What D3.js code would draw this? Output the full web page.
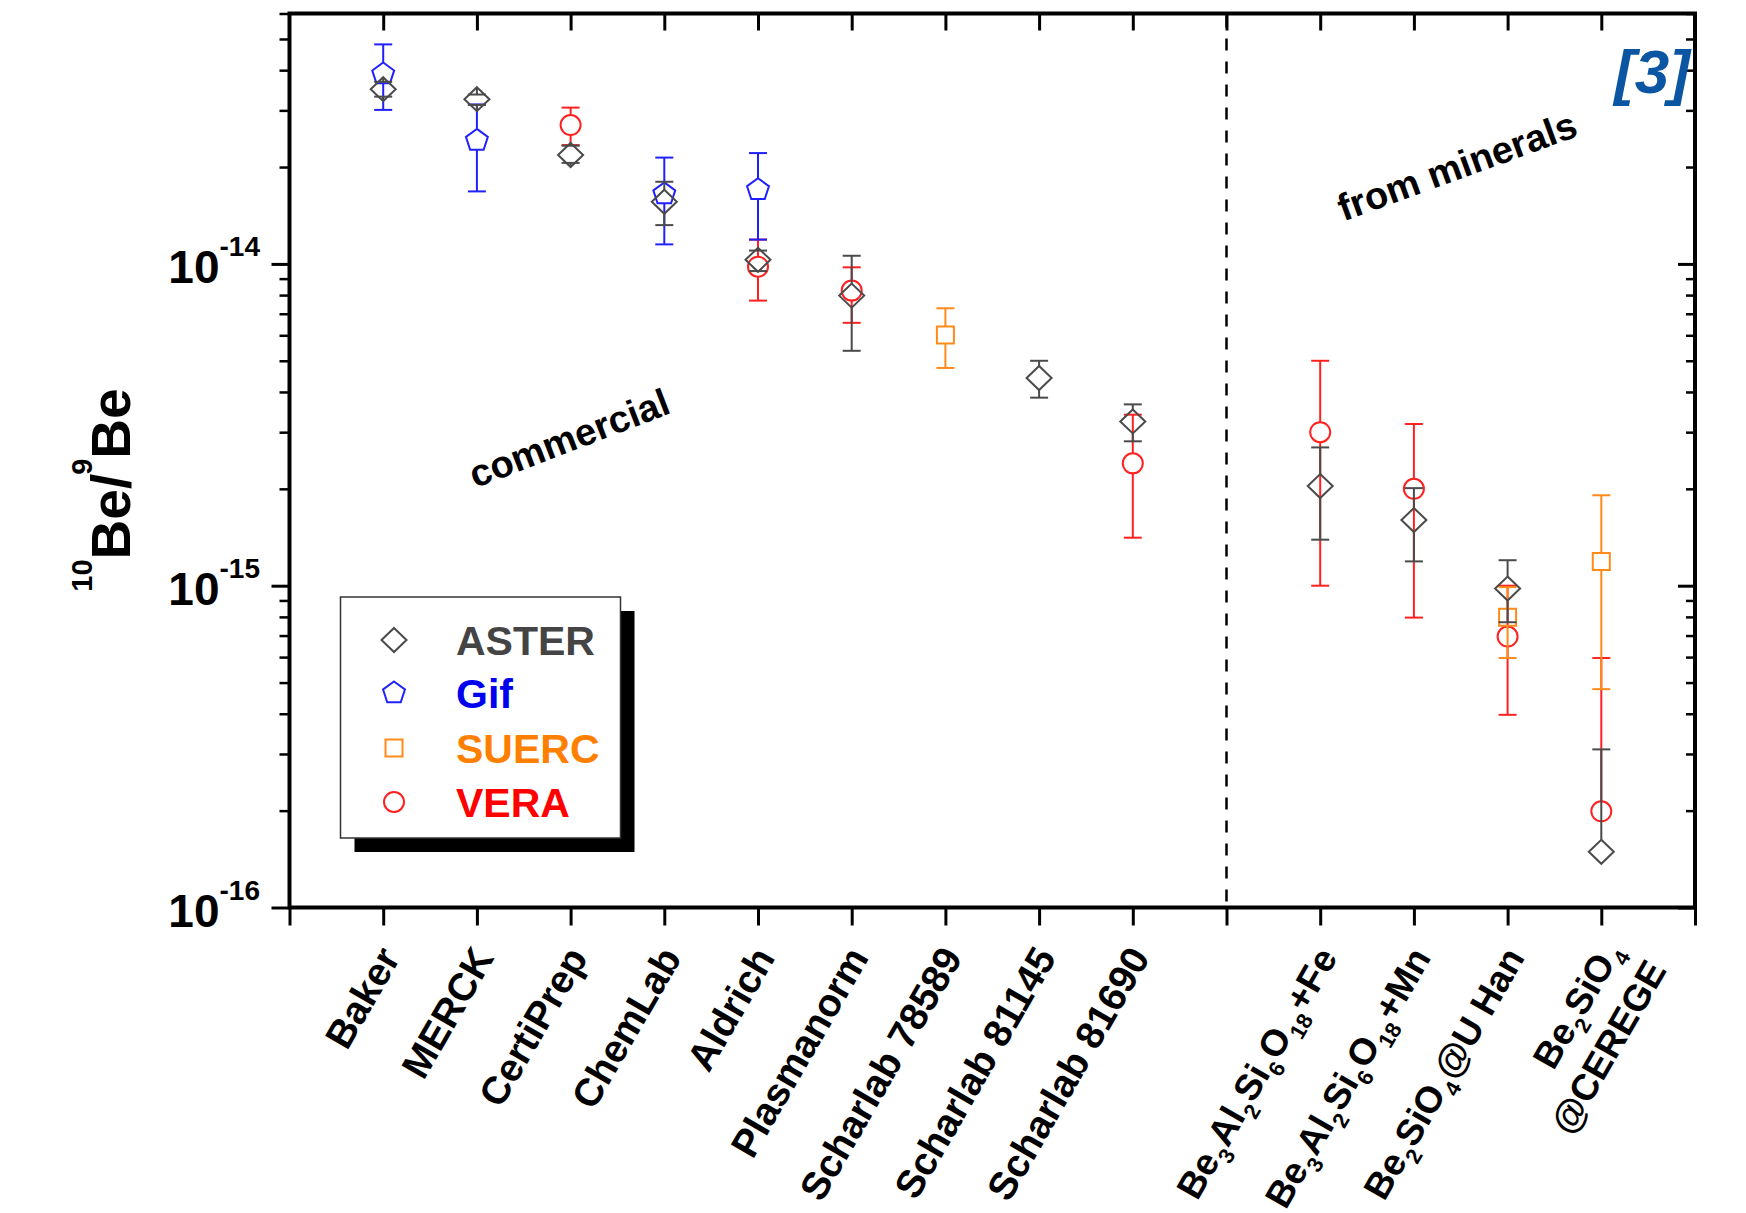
<!DOCTYPE html>
<html>
<head>
<meta charset="utf-8">
<script src="https://cdn.jsdelivr.net/npm/d3@7"></script>
<style>
  body { margin: 0; background: #fff; }
  svg { display: block; }
  text { font-family: "Liberation Sans", Arial, sans-serif; font-weight: bold; }
</style>
</head>
<body>
<svg id="chart" width="1746" height="1213"></svg>
<script>
// categories, x positions (10 = divider), tick labels ("_n" = subscript)
var categories = ["Baker", "MERCK", "CertiPrep", "ChemLab", "Aldrich", "Plasmanorm",
  "Scharlab 78589", "Scharlab 81145", "Scharlab 81690",
  "Be3Al2Si6O18+Fe", "Be3Al2Si6O18+Mn", "Be2SiO4@U Han", "Be2SiO4@CEREGE"];
var catPos = [1, 2, 3, 4, 5, 6, 7, 8, 9, 11, 12, 13, 14];
var tickLabels = [["Baker"], ["MERCK"], ["CertiPrep"], ["ChemLab"], ["Aldrich"], ["Plasmanorm"],
  ["Scharlab 78589"], ["Scharlab 81145"], ["Scharlab 81690"],
  ["Be_3Al_2Si_6O_18+Fe"], ["Be_3Al_2Si_6O_18+Mn"], ["Be_2SiO_4@U Han"], ["Be_2SiO_4", "@CEREGE"]];

// 10Be/9Be values and error bar ends (null = no point / no bar)
var asterVal = [3.49e-14, 3.25e-14, 2.18e-14, 1.56e-14, 1.03e-14, 7.97e-15, null, 4.42e-15, 3.24e-15, 2.04e-15, 1.60e-15, 9.8e-16, 1.49e-16];
var asterHi  = [3.68e-14, 3.36e-14, 2.33e-14, 1.80e-14, 1.10e-14, 1.06e-14, null, 5.0e-15, 3.66e-15, 2.69e-15, 2.01e-15, 1.20e-15, 3.1e-16];
var asterLo  = [3.31e-14, 3.12e-14, 2.06e-14, 1.32e-14, 9.5e-15, 5.37e-15, null, 3.84e-15, 2.81e-15, 1.39e-15, 1.19e-15, 7.7e-16, null];

var gifVal = [3.89e-14, 2.42e-14, null, 1.65e-14, 1.70e-14, null, null, null, null, null, null, null, null];
var gifHi  = [4.81e-14, 3.13e-14, null, 2.14e-14, 2.21e-14, null, null, null, null, null, null, null, null];
var gifLo  = [3.01e-14, 1.68e-14, null, 1.15e-14, 1.19e-14, null, null, null, null, null, null, null, null];

var suercVal = [null, null, null, null, null, null, 6.01e-15, null, null, null, null, 7.98e-16, 1.19e-15];
var suercHi  = [null, null, null, null, null, null, 7.28e-15, null, null, null, null, 9.9e-16, 1.91e-15];
var suercLo  = [null, null, null, null, null, null, 4.75e-15, null, null, null, null, 5.96e-16, 4.77e-16];

var veraVal = [null, null, 2.70e-14, null, 9.8e-15, 8.26e-15, null, null, 2.40e-15, 3.0e-15, 2.0e-15, 6.95e-16, 1.99e-16];
var veraHi  = [null, null, 3.06e-14, null, 1.19e-14, 9.76e-15, null, null, 3.40e-15, 5.0e-15, 3.18e-15, 1.0e-15, 5.96e-16];
var veraLo  = [null, null, 2.34e-14, null, 7.69e-15, 6.56e-15, null, null, 1.41e-15, 1.0e-15, 7.96e-16, 3.97e-16, null];

var yMajor = [1e-16, 1e-15, 1e-14];

var m = {t: 13.5, l: 289.5, r: 1695, b: 907.5};
var svg = d3.select('#chart');

var x = d3.scaleLinear().domain([0, 15]).range([m.l, m.r]);
var y = d3.scaleLog().domain([1e-16, 6e-14]).range([m.b, m.t]);

var yMinor = [];
[-16, -15, -14].forEach(function(e) {
  for (var k = 2; k <= 9; k++) {
    var v = k * Math.pow(10, e);
    if (v < 6.01e-14) yMinor.push(v);
  }
});

// axes
function styleAxis(g, w) {
  g.select('.domain').remove();
  g.selectAll('.tick line').attr('stroke', '#000').attr('stroke-width', w);
}
svg.append('g').attr('transform', 'translate(0,' + m.b + ')')
  .call(d3.axisBottom(x).tickValues(d3.range(0, 16)).tickSize(18).tickFormat(''))
  .call(styleAxis, 3);
svg.append('g').attr('transform', 'translate(0,' + m.t + ')')
  .call(d3.axisTop(x).tickValues(d3.range(1, 15)).tickSize(-17).tickFormat(''))
  .call(styleAxis, 3);
svg.append('g').attr('transform', 'translate(' + m.l + ',0)')
  .call(d3.axisLeft(y).tickValues(yMajor).tickSize(18).tickFormat(''))
  .call(styleAxis, 3);
svg.append('g').attr('transform', 'translate(' + m.l + ',0)')
  .call(d3.axisLeft(y).tickValues(yMinor).tickSize(10).tickFormat(''))
  .call(styleAxis, 2.5);
svg.append('g').attr('transform', 'translate(' + m.r + ',0)')
  .call(d3.axisRight(y).tickValues(yMajor).tickSize(-17).tickFormat(''))
  .call(styleAxis, 3);
svg.append('g').attr('transform', 'translate(' + m.r + ',0)')
  .call(d3.axisRight(y).tickValues(yMinor).tickSize(-9).tickFormat(''))
  .call(styleAxis, 2.5);

svg.append('rect')
  .attr('x', m.l).attr('y', m.t)
  .attr('width', m.r - m.l).attr('height', m.b - m.t)
  .attr('fill', 'none').attr('stroke', '#000').attr('stroke-width', 4);

// divider
svg.append('line')
  .attr('x1', x(10)).attr('x2', x(10))
  .attr('y1', m.t + 2).attr('y2', m.b)
  .attr('stroke', '#000').attr('stroke-width', 2.5)
  .attr('stroke-dasharray', '12,11');

// y tick labels
yMajor.forEach(function(v) {
  var t = svg.append('text')
    .attr('x', 260).attr('y', y(v) + 19)
    .attr('text-anchor', 'end');
  t.append('tspan').attr('font-size', 46).text('10');
  t.append('tspan').attr('font-size', 28).attr('dy', -27).text(String(Math.round(Math.log10(v))));
});

// y axis title
var yt = svg.append('text')
  .attr('transform', 'translate(130,490) rotate(-90)')
  .attr('text-anchor', 'middle');
yt.append('tspan').attr('font-size', 29).attr('dy', -38).text('10');
yt.append('tspan').attr('font-size', 55).attr('dy', 38).text('Be/');
yt.append('tspan').attr('font-size', 29).attr('dx', -1).attr('dy', -38).text('9');
yt.append('tspan').attr('font-size', 55).attr('dy', 38).text('Be');

// x tick labels
function richText(sel, s) {
  s.split(/(_\d+)/).forEach(function(p) {
    if (!p) return;
    if (p[0] === '_') {
      sel.append('tspan').attr('font-size', 22).attr('dx', 1).attr('dy', 10).text(p.slice(1));
      sel.append('tspan').attr('dx', 1).attr('dy', -10).text('\u200b');
    } else {
      sel.append('tspan').text(p);
    }
  });
}
categories.forEach(function(c, i) {
  var chem = i >= 9;
  var g = svg.append('g')
    .attr('transform', 'translate(' + (x(catPos[i]) + 18) + ',' + (m.b + 50) + ') rotate(-60)');
  tickLabels[i].forEach(function(line, j) {
    var t = g.append('text')
      .attr('x', tickLabels[i].length > 1 ? (j === 0 ? 8 : 13) : 0)
      .attr('y', j * 48)
      .attr('text-anchor', 'end')
      .attr('font-size', chem ? 37 : 39);
    richText(t, line);
  });
});

// markers
function diamondPath() { return 'M0,-12L12.5,0L0,12L-12.5,0Z'; }
function pentagonPath() {
  var R = 11.5, pts = [];
  for (var k = 0; k < 5; k++) {
    var a = -Math.PI / 2 + k * 2 * Math.PI / 5;
    pts.push([R * Math.cos(a), R * Math.sin(a)]);
  }
  return 'M' + pts.join('L') + 'Z';
}
function squarePath() { return 'M-8.5,-8.5H8.5V8.5H-8.5Z'; }
function circlePath() { return 'M10,0A10,10 0 1,1 -10,0A10,10 0 1,1 10,0Z'; }

var shapes = {
  ASTER: {d: diamondPath(), up: 12, dn: 12},
  Gif: {d: pentagonPath(), up: 11.5, dn: 9.3},
  SUERC: {d: squarePath(), up: 8.5, dn: 8.5},
  VERA: {d: circlePath(), up: 10, dn: 10}
};

var series = [
  {name: 'VERA', val: veraVal, hi: veraHi, lo: veraLo, color: '#ff2020', text: '#ff0000'},
  {name: 'SUERC', val: suercVal, hi: suercHi, lo: suercLo, color: '#ff8a1a', text: '#ff8000'},
  {name: 'Gif', val: gifVal, hi: gifHi, lo: gifLo, color: '#2020ff', text: '#0000ee'},
  {name: 'ASTER', val: asterVal, hi: asterHi, lo: asterLo, color: '#4a4a4a', text: '#444444'}
];

series.forEach(function(s) {
  var sh = shapes[s.name];
  var g = svg.append('g').attr('stroke', s.color).attr('fill', 'none').attr('stroke-width', 2);
  s.val.forEach(function(v, i) {
    if (v == null) return;
    var cx = x(catPos[i]), cy = y(v);
    if (s.hi[i] != null) {
      var yh = y(s.hi[i]);
      g.append('line').attr('x1', cx).attr('x2', cx).attr('y1', yh).attr('y2', cy - sh.up);
      g.append('line').attr('x1', cx - 9).attr('x2', cx + 9).attr('y1', yh).attr('y2', yh);
    }
    if (s.lo[i] != null) {
      var yl = y(s.lo[i]);
      g.append('line').attr('x1', cx).attr('x2', cx).attr('y1', cy + sh.dn).attr('y2', yl);
      g.append('line').attr('x1', cx - 9).attr('x2', cx + 9).attr('y1', yl).attr('y2', yl);
    }
    g.append('path').attr('d', sh.d).attr('transform', 'translate(' + cx + ',' + cy + ')');
  });
});

// legend
svg.append('rect').attr('x', 354.5).attr('y', 611).attr('width', 280).attr('height', 241).attr('fill', '#000');
svg.append('rect').attr('x', 340.5).attr('y', 597).attr('width', 280).attr('height', 241)
  .attr('fill', '#fff').attr('stroke', '#333').attr('stroke-width', 1.5);
var legendOrder = ['ASTER', 'Gif', 'SUERC', 'VERA'];
var legendY = [640, 693, 748, 802];
legendOrder.forEach(function(n, i) {
  var s = series.filter(function(d) { return d.name === n; })[0];
  svg.append('path').attr('d', shapes[n].d)
    .attr('transform', 'translate(394,' + legendY[i] + ')')
    .attr('fill', 'none').attr('stroke', s.color).attr('stroke-width', 2);
  svg.append('text').attr('x', 456).attr('y', legendY[i] + 15)
    .attr('font-size', 41).attr('fill', s.text).text(n);
});

// annotations
svg.append('text').attr('transform', 'translate(569,438) rotate(-21)')
  .attr('text-anchor', 'middle').attr('dy', '0.35em').attr('font-size', 38).text('commercial');
svg.append('text').attr('transform', 'translate(1457,166) rotate(-20)')
  .attr('text-anchor', 'middle').attr('dy', '0.35em').attr('font-size', 38).text('from minerals');
svg.append('text').attr('x', 1690).attr('y', 93).attr('text-anchor', 'end')
  .attr('font-size', 62).attr('font-style', 'italic').attr('fill', '#0b56a3').text('[3]');
</script>
</body>
</html>
